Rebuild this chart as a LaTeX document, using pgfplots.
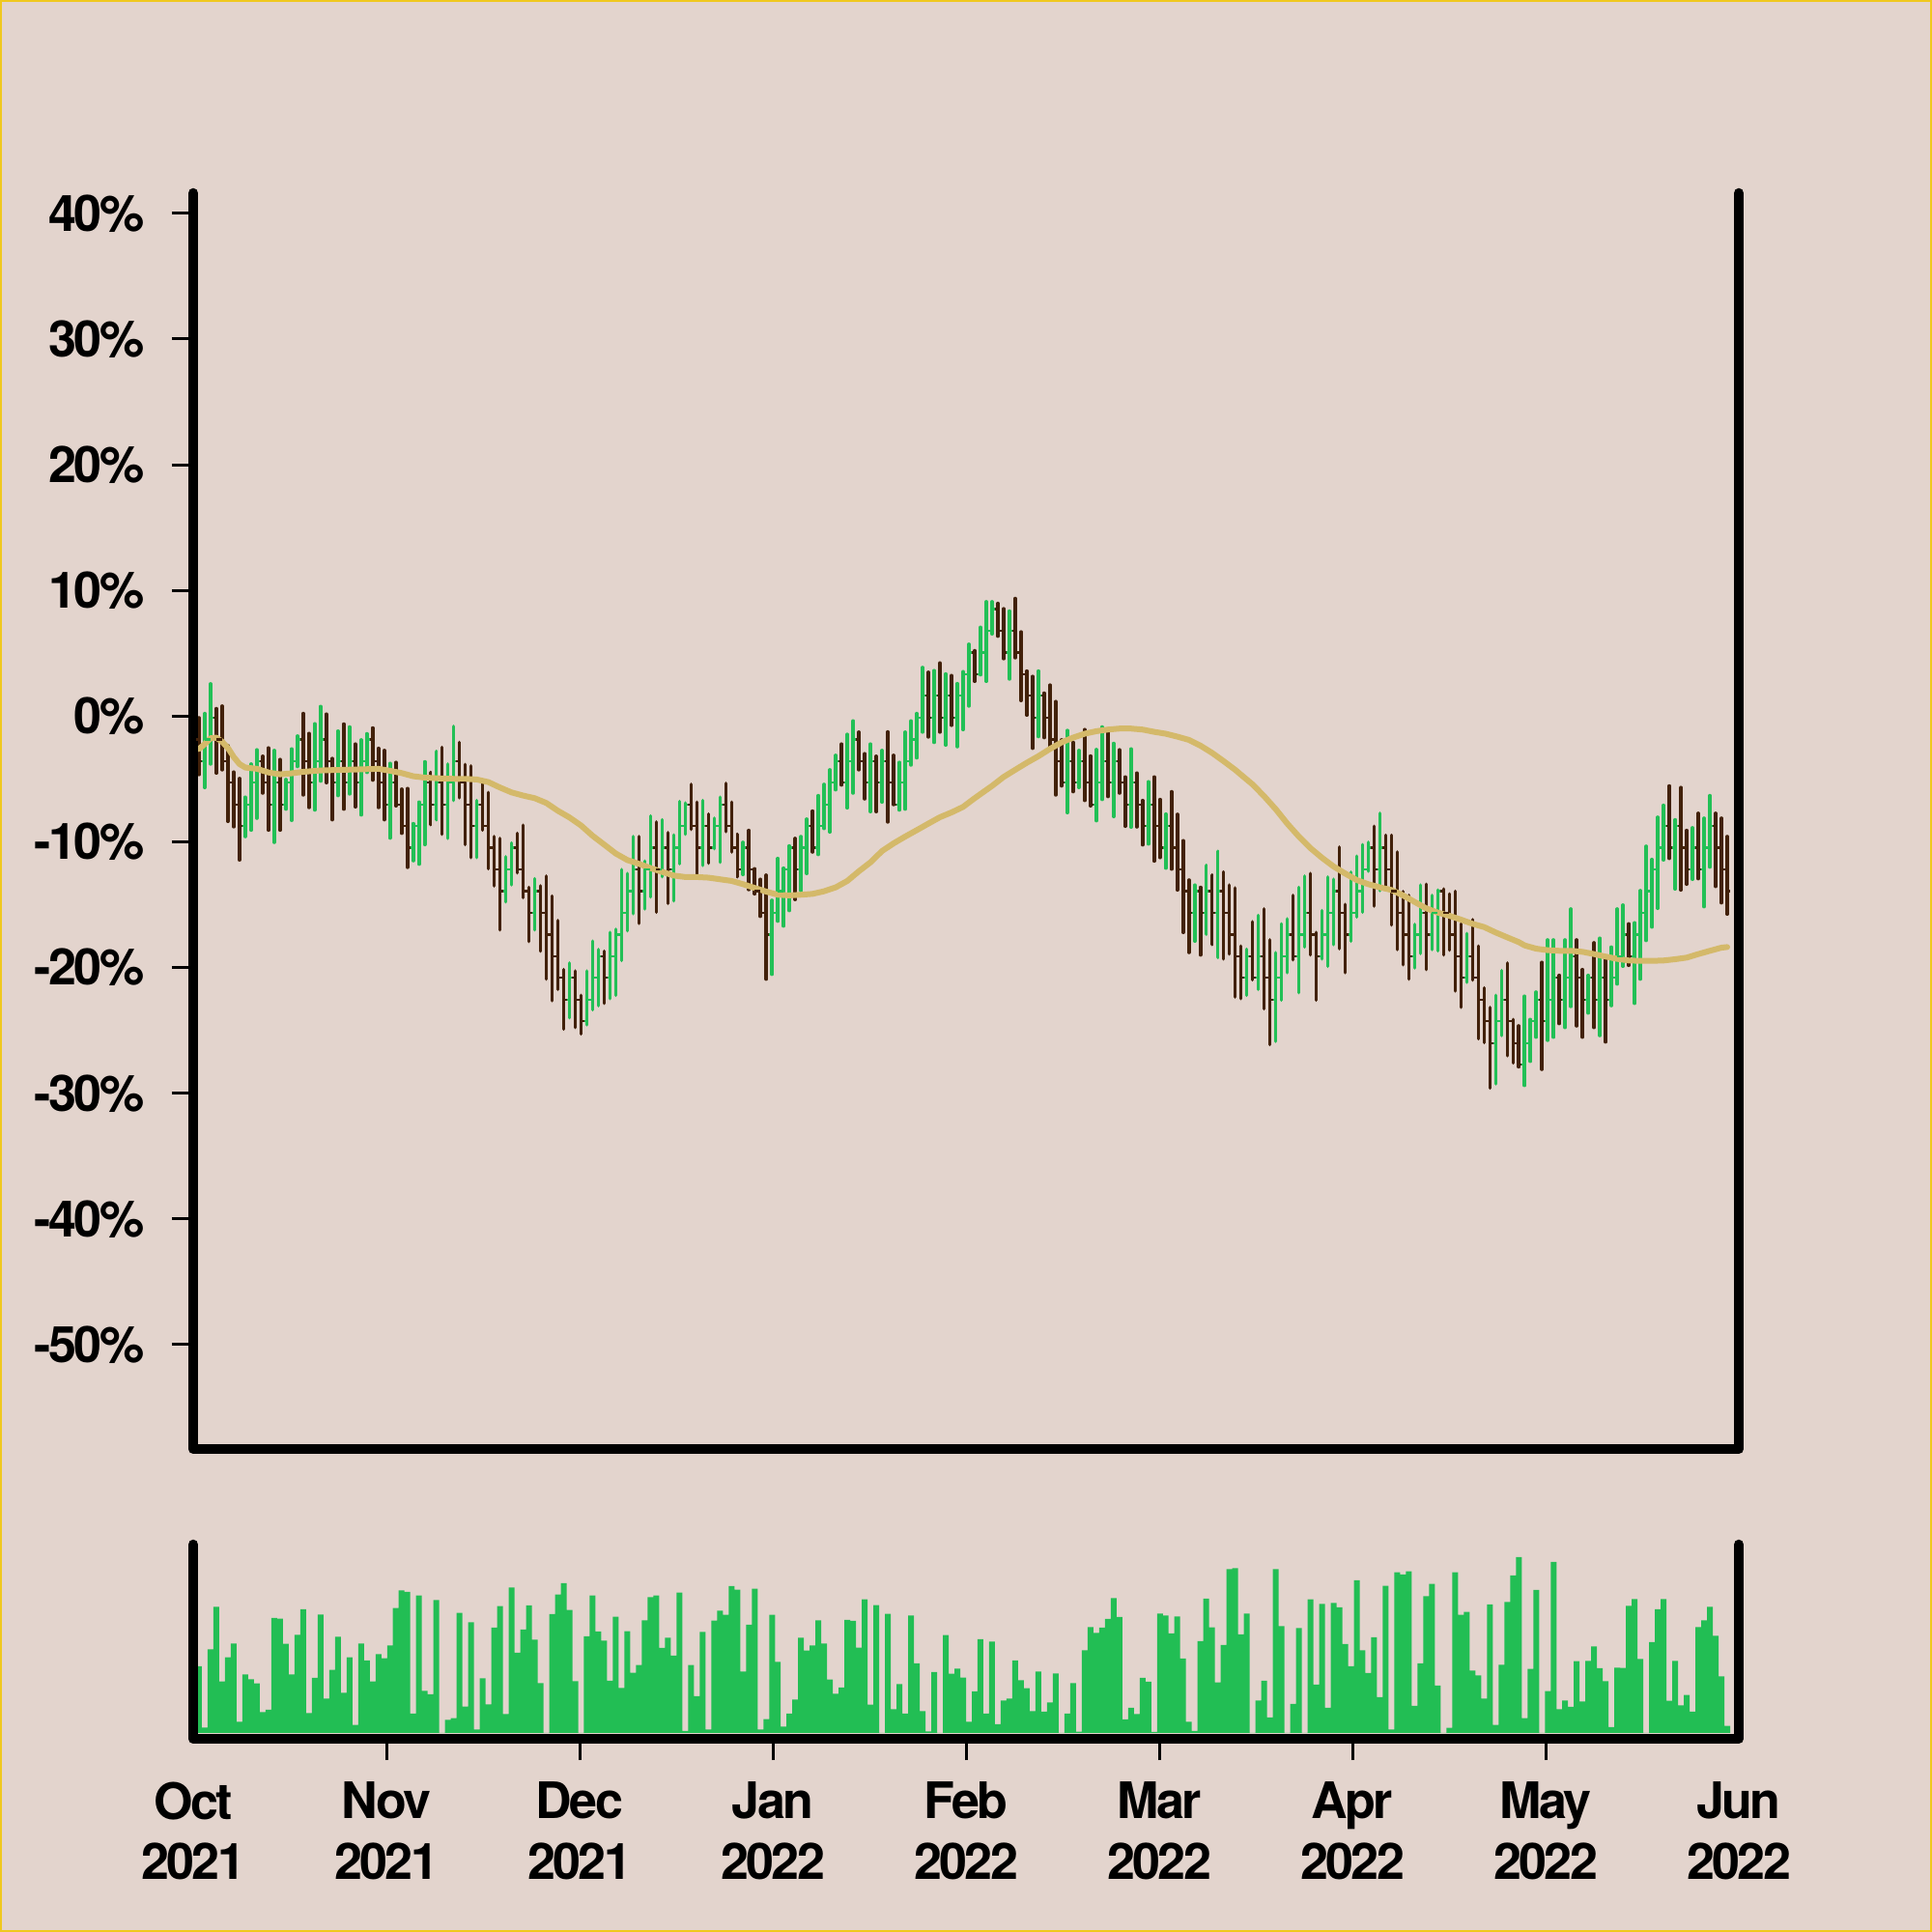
\documentclass[border=0pt]{standalone}
\usepackage{pgfplots}
\pgfplotsset{compat=1.18}
\usepackage{pgfplotstable}
\usepackage{fontspec}
\newfontfamily\heros{TeX Gyre Heros}[LetterSpace=-5]
\newcommand\labfont{\heros\bfseries\fontsize{14.8pt}{17.8pt}\selectfont}
\definecolor{bg}{RGB}{227,212,205}
\definecolor{upc}{RGB}{34,192,86}
\definecolor{dnc}{RGB}{66,33,10}
\definecolor{mac}{RGB}{212,185,106}
\definecolor{volc}{RGB}{34,190,84}
\definecolor{bord}{RGB}{240,200,30}
\pgfdeclareplotmark{otick}{\pgfpathmoveto{\pgfpoint{-0.32mm}{0pt}}\pgfpathlineto{\pgfpoint{0pt}{0pt}}\pgfusepathqstroke}
\pgfdeclareplotmark{ctick}{\pgfpathmoveto{\pgfpoint{0pt}{0pt}}\pgfpathlineto{\pgfpoint{0.32mm}{0pt}}\pgfusepathqstroke}

\pgfplotstableread{
k o h l c v
0 -1.85 -0.13 -4.65 -3.57 69
1 -3.57 0.21 -5.68 -1.85 5.7
2 -1.85 2.57 -3.81 -0.12 86.7
3 -0.12 0.60 -4.53 -1.85 130.7
4 -1.85 0.80 -4.27 -3.57 53.3
5 -3.57 -2.35 -8.37 -5.30 78.3
6 -5.30 -4.45 -8.80 -7.02 92.7
7 -7.02 -4.96 -11.44 -8.75 11.7
8 -8.75 -6.45 -9.58 -7.02 60.7
9 -7.02 -3.81 -9.07 -5.30 55.7
10 -5.30 -2.68 -8.12 -3.57 51.3
11 -3.57 -3.19 -6.12 -5.30 21.7
12 -5.30 -2.53 -9.07 -7.02 24
13 -7.02 -2.73 -10.04 -5.30 119
14 -5.30 -3.45 -9.07 -7.02 118.3
15 -7.02 -5.04 -7.40 -5.30 92.3
16 -5.30 -2.61 -8.29 -3.57 60.7
17 -3.57 -1.58 -4.01 -1.85 101.7
18 -1.85 0.21 -6.27 -3.57 128
19 -3.57 -1.38 -7.27 -5.30 20.7
20 -5.30 -0.61 -7.47 -3.57 57
21 -3.57 0.77 -5.17 -1.85 122.7
22 -1.85 0.16 -5.30 -3.57 35.7
23 -3.57 -3.37 -8.24 -5.30 65.3
24 -5.30 -1.19 -6.32 -3.57 99.7
25 -3.57 -0.63 -7.40 -5.30 41.7
26 -5.30 -0.86 -6.19 -3.57 78.3
27 -3.57 -2.22 -7.22 -5.30 8.3
28 -5.30 -1.89 -7.86 -3.57 92.7
29 -3.57 -1.40 -4.48 -1.85 75
30 -1.85 -0.94 -5.09 -3.57 53.3
31 -3.57 -2.56 -7.27 -5.30 81.7
32 -5.30 -2.73 -8.24 -7.02 77.3
33 -7.02 -3.76 -9.70 -5.30 90.7
34 -5.30 -3.68 -7.14 -7.02 129.3
35 -7.02 -5.81 -9.32 -8.75 147.7
36 -8.75 -5.76 -12.03 -10.47 146
37 -10.47 -8.55 -11.50 -8.75 20
38 -8.75 -6.84 -11.78 -7.02 142.3
39 -7.02 -3.63 -10.22 -5.30 43.7
40 -5.30 -4.48 -8.63 -7.02 40
41 -7.02 -2.81 -8.24 -5.30 137.7
42 -5.30 -2.48 -9.40 -7.02 0
43 -7.02 -3.81 -9.73 -5.30 13.7
44 -5.30 -0.81 -6.71 -3.57 15.3
45 -3.57 -2.09 -6.50 -5.30 124.3
46 -5.30 -3.84 -10.22 -7.02 27.3
47 -7.02 -3.96 -11.25 -8.75 114.7
48 -8.75 -6.71 -11.25 -7.02 3.7
49 -7.02 -5.30 -9.07 -8.75 56.7
50 -8.75 -6.07 -12.14 -10.47 29.7
51 -10.47 -9.58 -13.50 -12.20 109
52 -12.20 -9.73 -17.01 -13.92 131.3
53 -13.92 -11.19 -14.78 -12.20 19.7
54 -12.20 -10.09 -13.42 -10.47 150.7
55 -10.47 -9.32 -12.47 -12.20 83
56 -12.20 -8.68 -14.44 -13.92 107
57 -13.92 -13.62 -17.93 -15.65 132
58 -15.65 -12.93 -17.01 -13.92 96.7
59 -13.92 -13.50 -18.70 -15.65 51.7
60 -15.65 -12.73 -20.92 -17.38 0
61 -17.38 -14.31 -22.64 -19.10 123
62 -19.10 -16.26 -21.74 -20.83 143.3
63 -20.83 -20.16 -24.90 -22.55 155
64 -22.55 -19.64 -24.00 -20.83 127.3
65 -20.83 -20.28 -24.77 -22.55 53.7
66 -22.55 -22.21 -25.28 -24.28 0
67 -24.28 -20.28 -24.56 -22.55 100
68 -22.55 -17.90 -23.36 -20.83 142.3
69 -20.83 -18.57 -23.03 -19.10 105
70 -19.10 -18.70 -22.85 -20.83 95.7
71 -20.83 -17.21 -22.47 -19.10 54
72 -19.10 -16.96 -22.21 -17.38 120.3
73 -17.38 -12.21 -19.44 -15.65 46.7
74 -15.65 -12.52 -17.08 -13.92 105.3
75 -13.92 -9.58 -15.72 -12.20 62.3
76 -12.20 -9.58 -16.49 -13.92 70.3
77 -13.92 -11.53 -15.34 -12.20 116.7
78 -12.20 -7.94 -14.39 -10.47 140.7
79 -10.47 -8.42 -15.60 -12.20 142.3
80 -12.20 -8.24 -12.78 -10.47 88
81 -10.47 -9.27 -14.90 -12.20 98.7
82 -12.20 -9.45 -14.70 -10.47 80
83 -10.47 -6.79 -11.75 -8.75 145.3
84 -8.75 -6.91 -9.40 -7.02 2
85 -7.02 -5.43 -9.01 -8.75 70.3
86 -8.75 -6.84 -12.60 -10.47 38
87 -10.47 -6.71 -11.88 -8.75 104.7
88 -8.75 -7.79 -11.70 -10.47 3.7
89 -10.47 -8.12 -10.55 -8.75 116.3
90 -8.75 -6.45 -11.63 -7.02 126.7
91 -7.02 -5.35 -9.19 -8.75 122.3
92 -8.75 -6.84 -10.81 -10.47 152
93 -10.47 -9.40 -12.78 -12.20 148.3
94 -12.20 -10.04 -12.60 -10.47 63.7
95 -10.47 -9.09 -13.80 -12.20 112
96 -12.20 -12.14 -14.14 -13.92 149.3
97 -13.92 -12.98 -15.93 -15.65 3.7
98 -15.65 -12.65 -20.92 -17.38 14.3
99 -17.38 -14.65 -20.54 -15.65 122.3
100 -15.65 -11.32 -16.31 -13.92 73.7
101 -13.92 -12.09 -16.70 -12.20 6.7
102 -12.20 -10.32 -15.47 -10.47 20
103 -10.47 -9.73 -14.59 -12.20 34.7
104 -12.20 -9.58 -13.88 -10.47 98.7
105 -10.47 -8.19 -12.52 -8.75 85.3
106 -8.75 -7.55 -10.81 -10.47 90.7
107 -10.47 -6.32 -11.01 -8.75 116.7
108 -8.75 -5.43 -8.94 -7.02 92.7
109 -7.02 -4.27 -9.22 -5.30 55.3
110 -5.30 -3.12 -5.86 -3.57 40.7
111 -3.57 -2.22 -5.48 -5.30 47
112 -5.30 -1.45 -7.30 -3.57 117
113 -3.57 -0.38 -6.12 -1.85 116
114 -1.85 -1.27 -4.27 -3.57 88.3
115 -3.57 -2.99 -6.58 -5.30 138.3
116 -5.30 -2.22 -7.60 -3.57 29.3
117 -3.57 -3.19 -7.60 -5.30 132.3
118 -5.30 -2.73 -6.84 -3.57 0
119 -3.57 -1.25 -8.42 -5.30 123.3
120 -5.30 -3.12 -7.04 -7.02 24.7
121 -7.02 -3.68 -7.47 -5.30 50.7
122 -5.30 -1.27 -7.40 -3.57 20
123 -3.57 -0.38 -3.89 -1.85 121.7
124 -1.85 0.21 -3.32 -0.12 72
125 -0.12 3.87 -1.27 1.61 22.7
126 1.61 3.49 -1.66 -0.12 1.7
127 -0.12 3.62 -2.09 1.61 63
128 1.61 4.23 -1.27 -0.12 0
129 -0.12 3.36 -2.30 1.61 101.3
130 1.61 3.23 -0.73 -0.12 61.3
131 -0.12 2.59 -2.43 1.61 66.7
132 1.61 3.54 -1.07 3.33 57.3
133 3.33 5.72 0.80 5.06 11.7
134 5.06 5.21 2.77 3.33 43
135 3.33 7.07 3.29 5.06 97
136 5.06 9.10 2.77 6.78 20
137 6.78 9.10 6.54 8.51 94.7
138 8.51 8.97 6.36 6.78 9
139 6.78 8.54 4.57 5.06 33.7
140 5.06 8.36 2.95 6.78 35.7
141 6.78 9.36 4.64 5.06 75
142 5.06 6.70 1.24 3.33 54.7
143 3.33 3.59 0.08 1.61 46.3
144 1.61 3.16 -2.56 -0.12 22.7
145 -0.12 3.59 -1.63 1.61 63.7
146 1.61 1.83 -1.71 -0.12 22
147 -0.12 2.47 -2.48 -1.85 31.7
148 -1.85 1.16 -6.27 -3.57 61.7
149 -3.57 -1.89 -5.55 -5.30 0
150 -5.30 -1.14 -7.68 -3.57 20
151 -3.57 -2.09 -6.01 -5.30 51.7
152 -5.30 -2.73 -5.68 -3.57 1.3
153 -3.57 -1.07 -6.71 -5.30 85.7
154 -5.30 -3.17 -7.14 -7.02 109.7
155 -7.02 -2.66 -8.32 -5.30 103.7
156 -5.30 -0.86 -6.63 -3.57 109
157 -3.57 -1.32 -6.40 -5.30 118
158 -5.30 -2.17 -7.99 -3.57 139.7
159 -3.57 -2.68 -6.12 -5.30 120
160 -5.30 -4.84 -8.76 -7.02 14
161 -7.02 -2.61 -8.83 -5.30 26
162 -5.30 -4.53 -8.81 -7.02 19.7
163 -7.02 -6.71 -10.24 -8.75 57
164 -8.75 -5.22 -10.17 -7.02 53
165 -7.02 -4.84 -11.53 -8.75 1
166 -8.75 -6.63 -11.25 -10.47 123.7
167 -10.47 -7.79 -12.09 -8.75 121.7
168 -8.75 -6.01 -12.17 -10.47 103
169 -10.47 -7.81 -13.83 -12.20 120.7
170 -12.20 -9.91 -17.21 -13.92 77
171 -13.92 -13.04 -18.80 -15.65 11.7
172 -15.65 -13.44 -17.90 -13.92 2
173 -13.92 -13.62 -19.00 -15.65 95
174 -15.65 -11.88 -17.34 -13.92 139
175 -13.92 -12.65 -18.16 -15.65 109.3
176 -15.65 -10.76 -19.19 -13.92 52.3
177 -13.92 -12.39 -19.32 -15.65 91
178 -15.65 -13.44 -18.93 -17.38 169.7
179 -17.38 -13.67 -22.34 -19.10 170.7
180 -19.10 -18.29 -22.47 -20.83 102
181 -20.83 -18.54 -22.21 -19.10 123.7
182 -19.10 -16.36 -20.98 -20.83 0
183 -20.83 -15.85 -21.74 -19.10 33.7
184 -19.10 -15.34 -23.28 -20.83 54
185 -20.83 -17.80 -26.13 -22.55 16
186 -22.55 -18.82 -25.87 -20.83 169.7
187 -20.83 -16.52 -22.59 -19.10 110.7
188 -19.10 -16.13 -20.41 -17.38 0
189 -17.38 -14.26 -19.39 -19.10 30
190 -19.10 -13.62 -22.00 -17.38 108.7
191 -17.38 -12.73 -18.37 -15.65 0
192 -15.65 -12.52 -19.00 -17.38 138.3
193 -17.38 -17.21 -22.59 -19.10 50
194 -19.10 -15.47 -19.32 -17.38 133.7
195 -17.38 -12.80 -19.90 -15.65 26
196 -15.65 -12.98 -18.18 -13.92 134.7
197 -13.92 -10.42 -18.50 -15.65 130
198 -15.65 -14.98 -20.41 -17.38 92
199 -17.38 -12.42 -17.90 -15.65 69
200 -15.65 -11.14 -15.98 -13.92 158
201 -13.92 -10.22 -15.60 -12.20 85.7
202 -12.20 -10.04 -12.34 -10.47 62
203 -10.47 -8.76 -15.11 -12.20 99
204 -12.20 -7.73 -13.88 -10.47 37
205 -10.47 -9.47 -13.50 -12.20 152.3
206 -12.20 -9.47 -16.62 -13.92 3.7
207 -13.92 -10.81 -18.57 -15.65 166.3
208 -15.65 -13.96 -19.78 -17.38 164
209 -17.38 -14.26 -20.92 -19.10 167.3
210 -19.10 -16.57 -20.03 -17.38 28
211 -17.38 -13.44 -18.88 -15.65 72
212 -15.65 -13.37 -20.16 -17.38 141.7
213 -17.38 -14.26 -18.57 -15.65 154.3
214 -15.65 -13.83 -18.67 -13.92 49
215 -13.92 -13.75 -19.00 -15.65 0
216 -15.65 -14.14 -18.62 -17.38 5.3
217 -17.38 -13.93 -21.87 -19.10 166.3
218 -19.10 -16.52 -23.16 -20.83 122.3
219 -20.83 -17.29 -21.18 -19.10 125.3
220 -19.10 -16.19 -21.00 -20.83 64.7
221 -20.83 -18.29 -25.67 -22.55 59.7
222 -22.55 -21.62 -25.97 -24.28 35.7
223 -24.28 -23.18 -29.59 -26.00 133
224 -26.00 -22.21 -29.25 -24.28 8.3
225 -24.28 -20.24 -25.41 -22.55 70.7
226 -22.55 -19.64 -27.02 -24.28 135.7
227 -24.28 -24.13 -27.59 -26.00 163
228 -26.00 -24.64 -27.90 -27.73 182
229 -27.73 -22.28 -29.38 -26.00 15.3
230 -26.00 -24.13 -27.46 -24.28 66.3
231 -24.28 -21.95 -25.54 -22.55 148
232 -22.55 -19.59 -28.10 -24.28 0
233 -24.28 -17.80 -25.79 -22.55 43.3
234 -22.55 -17.80 -25.54 -20.83 177
235 -20.83 -20.62 -24.46 -22.55 24.7
236 -22.55 -17.80 -24.77 -20.83 33.7
237 -20.83 -15.34 -23.10 -19.10 27
238 -19.10 -17.80 -24.64 -20.83 74.3
239 -20.83 -20.16 -25.54 -22.55 32.7
240 -22.55 -20.62 -23.62 -20.83 74.7
241 -20.83 -18.03 -24.77 -22.55 89.7
242 -22.55 -17.67 -25.41 -20.83 67
243 -20.83 -19.34 -25.92 -22.55 53.7
244 -22.55 -18.37 -23.03 -20.83 6
245 -20.83 -15.34 -21.31 -19.10 67.7
246 -19.10 -15.03 -19.90 -17.38 67.3
247 -17.38 -16.52 -19.83 -19.10 131.7
248 -19.10 -16.44 -22.85 -17.38 138.7
249 -17.38 -13.88 -20.92 -15.65 76.7
250 -15.65 -10.35 -17.85 -13.92 0
251 -13.92 -11.40 -16.78 -12.20 94
252 -12.20 -8.04 -15.29 -10.47 128
253 -10.47 -7.09 -11.44 -8.75 138.7
254 -8.75 -5.55 -11.32 -10.47 33.3
255 -10.47 -8.24 -13.75 -8.75 74.7
256 -8.75 -5.68 -13.83 -10.47 28.7
257 -10.47 -9.09 -13.37 -12.20 39.3
258 -12.20 -8.88 -12.98 -10.47 22
259 -10.47 -7.73 -12.93 -12.20 109.7
260 -12.20 -8.12 -15.16 -10.47 116.7
261 -10.47 -6.32 -12.01 -8.75 130.7
262 -8.75 -7.73 -13.55 -10.47 100.7
263 -10.47 -8.12 -14.85 -12.20 58.7
264 -12.20 -9.58 -15.75 -13.92 7.3
}\ohlc

\pgfplotstableread{
k ma
0 -2.61
1 -2.22
2 -1.76
3 -1.71
4 -2.04
5 -2.53
6 -3.25
7 -3.81
8 -4.09
10 -4.19
12 -4.48
14 -4.63
16 -4.55
18 -4.43
21 -4.32
25 -4.27
29 -4.22
31 -4.19
33 -4.35
35 -4.53
37 -4.78
39 -4.89
42 -4.96
44 -4.99
46 -4.99
48 -5.04
50 -5.25
52 -5.68
54 -6.07
56 -6.32
58 -6.53
60 -6.91
62 -7.53
64 -8.06
66 -8.70
68 -9.52
70 -10.22
72 -10.93
74 -11.45
76 -11.75
78 -12.09
80 -12.39
82 -12.68
84 -12.80
86 -12.80
88 -12.85
90 -12.98
92 -13.11
94 -13.37
96 -13.67
98 -13.96
100 -14.21
102 -14.26
104 -14.21
106 -14.14
108 -13.93
110 -13.62
112 -13.11
114 -12.34
116 -11.63
118 -10.73
120 -10.12
122 -9.58
124 -9.07
126 -8.55
128 -8.04
130 -7.66
132 -7.22
134 -6.53
135 -6.20
137 -5.55
139 -4.84
141 -4.27
143 -3.71
145 -3.19
147 -2.61
149 -2.09
151 -1.71
153 -1.40
155 -1.20
157 -1.07
159 -0.99
161 -0.99
163 -1.07
165 -1.25
167 -1.40
169 -1.63
171 -1.89
173 -2.35
175 -2.92
177 -3.58
179 -4.27
180 -4.66
182 -5.43
184 -6.37
186 -7.40
188 -8.55
190 -9.58
192 -10.50
194 -11.27
196 -11.96
198 -12.52
200 -13.04
202 -13.37
204 -13.62
206 -13.83
208 -14.26
210 -14.78
212 -15.29
214 -15.63
216 -15.88
218 -16.19
220 -16.52
222 -16.78
224 -17.21
226 -17.60
228 -17.98
229 -18.24
231 -18.50
233 -18.62
235 -18.67
237 -18.67
239 -18.75
241 -18.93
243 -19.13
245 -19.31
247 -19.44
249 -19.47
251 -19.47
253 -19.44
255 -19.34
257 -19.21
259 -18.93
261 -18.67
263 -18.42
264 -18.37
}\matab

\begin{document}
\begin{tikzpicture}
\fill[bg] (0,0) rectangle (200mm,200mm);
\draw[bord, line width=0.25mm] (0.125mm,0.125mm) rectangle (199.875mm,199.875mm);
\pgfplotsset{
  myax/.style={
    scale only axis, clip=false,
    xmin=-1, xmax=266,
    axis line style={draw=none},
    tick align=outside,
    major tick length=2.2mm,
    tick style={line width=0.3mm, black},
    ticklabel style={font=\labfont, text=black},
  },
  hl/.style={only marks, mark=*, mark size=0pt, mark options={draw=none, fill=none},
    error bars/.cd, y dir=plus, y explicit, error mark=none,
    error bar style={draw=#1, line width=0.36mm, line cap=round}},
}
\begin{axis}[myax,
  at={(20mm,50mm)}, anchor=south west,
  width=160mm, height=130mm,
  ymin=-58.3, ymax=41.6,
  xtick=\empty,
  ytick={-50,-40,-30,-20,-10,0,10,20,30,40},
  yticklabels={-50\%,-40\%,-30\%,-20\%,-10\%,0\%,10\%,20\%,30\%,40\%},
  ytick pos=left,
  yticklabel style={anchor=east, inner sep=0pt, xshift=-2.8mm},
]
% high-low ranges, up days
\addplot[restrict expr to domain={\thisrow{c}-\thisrow{o}}{0:100}, hl=upc]
  table[x=k, y=l, y error expr=\thisrow{h}-\thisrow{l}] {\ohlc};
% high-low ranges, down days
\addplot[restrict expr to domain={\thisrow{c}-\thisrow{o}}{-100:-0.001}, hl=dnc]
  table[x=k, y=l, y error expr=\thisrow{h}-\thisrow{l}] {\ohlc};
% open / close ticks
\addplot[only marks, mark=otick, mark options={draw=upc, line width=0.22mm},
  restrict expr to domain={\thisrow{c}-\thisrow{o}}{0:100}]
  table[x=k, y=o] {\ohlc};
\addplot[only marks, mark=ctick, mark options={draw=upc, line width=0.22mm},
  restrict expr to domain={\thisrow{c}-\thisrow{o}}{0:100}]
  table[x=k, y=c] {\ohlc};
\addplot[only marks, mark=otick, mark options={draw=dnc, line width=0.22mm},
  restrict expr to domain={\thisrow{c}-\thisrow{o}}{-100:-0.001}]
  table[x=k, y=o] {\ohlc};
\addplot[only marks, mark=ctick, mark options={draw=dnc, line width=0.22mm},
  restrict expr to domain={\thisrow{c}-\thisrow{o}}{-100:-0.001}]
  table[x=k, y=c] {\ohlc};
% moving average
\addplot[draw=mac, line width=0.6mm, line join=round, line cap=round, mark=none]
  table[x=k, y=ma] {\matab};
\draw[line width=1.05mm, line cap=round, line join=round]
  (rel axis cs:0,1) -- (rel axis cs:0,0) -- (rel axis cs:1,0) -- (rel axis cs:1,1);
\end{axis}

\begin{axis}[myax,
  at={(20mm,20mm)}, anchor=south west,
  width=160mm, height=20.1mm,
  ymin=-6, ymax=195,
  ytick=\empty,
  xtick={32.375,65.75,99.125,132.5,165.875,199.25,232.625},
  xticklabels={{Nov\\2021},{Dec\\2021},{Jan\\2022},{Feb\\2022},{Mar\\2022},{Apr\\2022},{May\\2022}},
  extra x ticks={-1,266},
  extra x tick labels={{Oct\\2021},{Jun\\2022}},
  extra x tick style={major tick length=0pt, xticklabel style={yshift=-2.2mm}},
  xtick pos=bottom,
  xticklabel style={anchor=north, inner sep=0pt, align=center, yshift=-2.2mm},
]
\addplot[ybar, bar width=1, fill=volc, draw=none] table[x=k, y=v] {\ohlc};
\draw[line width=1.05mm, line cap=round, line join=round]
  (rel axis cs:0,1) -- (rel axis cs:0,0) -- (rel axis cs:1,0) -- (rel axis cs:1,1);
\end{axis}
\pgfresetboundingbox
\useasboundingbox (0,0) rectangle (200mm,200mm);
\end{tikzpicture}
\end{document}
